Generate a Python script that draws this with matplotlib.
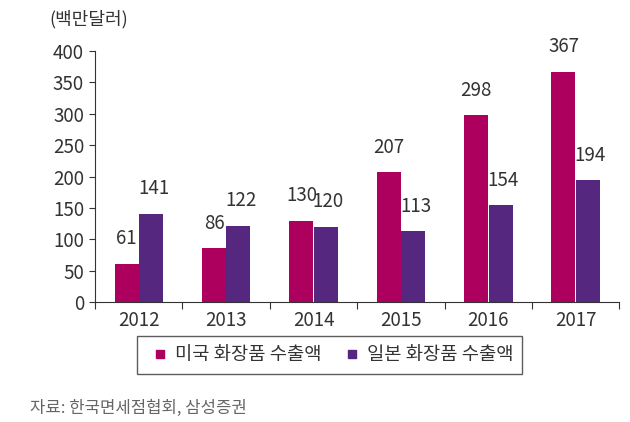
import matplotlib
matplotlib.use("Agg")
from matplotlib import pyplot as plt
from matplotlib.lines import Line2D
import numpy as np

plt.rcParams['font.family'] = ['Noto Sans CJK KR', 'DejaVu Sans']

# data
years = ["2012", "2013", "2014", "2015", "2016", "2017"]
usa_exports = [61, 86, 130, 207, 298, 367]
japan_exports = [141, 122, 120, 113, 154, 194]
series_names = ["미국 화장품 수출액", "일본 화장품 수출액"]
unit_label = "(백만달러)"
source_note = "자료: 한국면세점협회, 삼성증권"

magenta = "#AD005E"
purple = "#55277F"
text_color = "#333333"

fig = plt.figure(figsize=(6.3, 4.22), dpi=100)
ax = fig.add_axes([0.151, 0.284, 0.832, 0.595])

x = np.arange(len(years))
w = 0.275
ax.bar(x - w / 2 - 0.003, usa_exports, width=w, color=magenta)
ax.bar(x + w / 2 + 0.003, japan_exports, width=w, color=purple)

# value labels, floating above each bar
for i in range(len(years)):
    ax.annotate(str(usa_exports[i]), (x[i] - w / 2, usa_exports[i]),
                xytext=(0, 18), textcoords="offset points",
                ha="center", va="center", fontsize=13.5, color=text_color)
    ax.annotate(str(japan_exports[i]), (x[i] + w / 2, japan_exports[i]),
                xytext=(2, 18), textcoords="offset points",
                ha="center", va="center", fontsize=13.5, color=text_color)

ax.set_xlim(-0.5, len(years) - 0.5)
ax.set_ylim(0, 400)
ax.set_yticks(range(0, 401, 50))
ax.tick_params(axis="y", labelsize=13.5, colors=text_color, length=4, pad=4)

# tick marks between groups, labels at group centres
ax.set_xticks(np.arange(-0.5, len(years), 1.0))
ax.set_xticklabels([])
ax.set_xticks(x, minor=True)
ax.set_xticklabels(years, minor=True)
ax.tick_params(axis="x", which="major", length=5, color=text_color)
ax.tick_params(axis="x", which="minor", length=0, labelsize=13.5,
               labelcolor=text_color, pad=6)

for s in ["top", "right"]:
    ax.spines[s].set_visible(False)
for s in ["left", "bottom"]:
    ax.spines[s].set_color(text_color)

fig.text(0.078, 0.955, unit_label, fontsize=13, color=text_color, va="center")

handles = [Line2D([], [], marker="s", ls="", color=magenta, markersize=6),
           Line2D([], [], marker="s", ls="", color=purple, markersize=6)]
leg = fig.legend(handles, series_names, loc="center",
                 bbox_to_anchor=(0.523, 0.159), ncol=2, fontsize=13.5,
                 frameon=True, fancybox=False, handletextpad=0.0,
                 handlelength=1.6, columnspacing=0.8, borderpad=0.45)
leg.get_frame().set_edgecolor(text_color)
leg.get_frame().set_linewidth(1.0)
for t in leg.get_texts():
    t.set_color(text_color)

fig.text(0.048, 0.033, source_note, fontsize=12, color="#666666", va="center")

fig.savefig("out.png", dpi=100)
